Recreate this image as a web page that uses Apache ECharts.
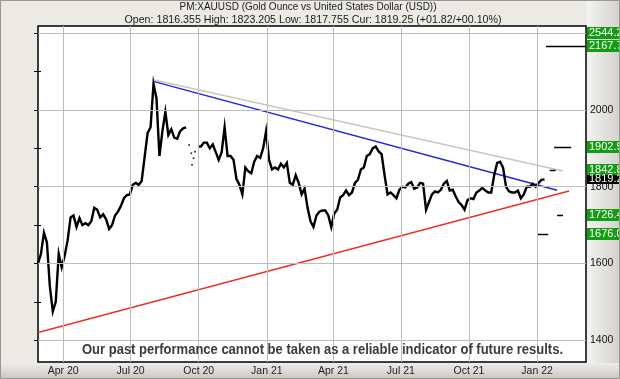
<!DOCTYPE html>
<html><head><meta charset="utf-8">
<script src="https://cdn.jsdelivr.net/npm/echarts@6/dist/echarts.min.js"></script>
<style>html,body{margin:0;padding:0;background:#eceae5;overflow:hidden}#c{width:620px;height:379px}</style>
</head><body><div id="c"></div>
<script>
// ---------- text ----------
const titleLine1 = 'PM:XAUUSD (Gold Ounce vs United States Dollar (USD))';
const titleLine2 = 'Open: 1816.355 High: 1823.205 Low: 1817.755 Cur: 1819.25 (+01.82/+00.10%)';
const disclaimer = 'Our past performance cannot be taken as a reliable indicator of future results.';

// ---------- axes ----------
const axisStart = '2020-02-27';
const axisEnd = '2022-03-08';
const quarterStarts = ['2020-04-01','2020-07-01','2020-10-01','2021-01-01','2021-04-01','2021-07-01','2021-10-01','2022-01-01'];
const quarterLabels = ['Apr 20','Jul 20','Oct 20','Jan 21','Apr 21','Jul 21','Oct 21','Jan 22'];
const yMin = 1343, yMax = 2219;
const yTickValues = [1400,1500,1600,1700,1800,1900,2000,2100,2200];
const yLabelValues = [1400,1600,1800,2000];
const gridLevels = [1400,1600,1800,2000,2200];

// ---------- price (one reading every 4 calendar days from startDate) ----------
const startDate = '2020-02-27';
const stepDays = 4;
const prices2020 = [1600,1625,1680,1655,1540,1475,1500,1625,1590,1620,
  1660,1720,1725,1695,1718,1700,1705,1700,1710,1745,
  1740,1720,1728,1715,1690,1700,1725,1735,1750,1770,
  1778,1780,1805,1810,1805,1815,1878,1940,1955,2068,
  2030,1880,1945,1995,1935,1950,1928,1925,1945,1952,
  1955,null,null,null,1905,1905,1915,1915,1900,1910,
  1890,1870,1890,1955,1880,1880,1870,1820,1805,1780,
  1850,1840,1835,1865,1880,1875,1900,1945];
const prices2021 = [1870,1845,1850,1845,1860,1850,1862,1810,1805,1830,
  1810,1780,1795,1745,1710,1695,1725,1735,1738,1738,
  1725,1695,1730,1740,1772,1778,1790,1778,1785,1810,
  1818,1845,1850,1880,1885,1900,1905,1892,1885,1830,
  1780,1785,1778,1770,1792,1800,1798,1808,1812,1795,
  1798,1810,1808,1740,1760,1780,1788,1785,1792,1808,
  1815,1790,1792,1775,1760,1752,1740,1765,1770,1768,
  1785,1790,1797,1790,1785,1785,1830,1862,1865,1850,
  1800,1788,1785,1785,1790,1770,1780,1800,1800,1808,
  1800];
const prices2022 = [1810,1818,1819.25];
// sparse prints in late September 2020
const sparseDates = ['2020-09-18','2020-09-21','2020-09-24','2020-09-22','2020-09-26'];
const sparseValues = [1909,1887,1874,1857,1891];

// ---------- trend lines ----------
const redLine = [['2020-02-27',1420],['2022-02-13',1789]];
const blueLine = [['2020-08-02',2074],['2022-01-28',1791]];
const greyLine = [['2020-08-02',2078],['2022-02-05',1841]];

// ---------- targets ----------
const targetLevels = [2544.2, 2167.7, 1902.9, 1842.8, 1726.4, 1676.0];
const targetStarts = [null, '2022-01-13','2022-01-24','2022-01-18','2022-01-28','2022-01-01'];
const targetEnds   = [null, '2022-03-08','2022-02-16','2022-01-26','2022-02-05','2022-01-16'];
const currentPrice = 1819.25;

// ---------- build (x = days since axisStart) ----------
const DAY = 86400000;
const ts = s => Date.parse(s + 'T00:00:00Z');
const dx = s => (ts(s) - ts(axisStart)) / DAY;
const xMin = 0, xMax = dx(axisEnd);
const allPrices = prices2020.concat(prices2021, prices2022);
const priceData = allPrices.map((v, i) => [dx(startDate) + i * stepDays, v]);
const sparseData = sparseDates.map((d, i) => [dx(d), sparseValues[i]]);
const toPts = arr => arr.map(p => [dx(p[0]), p[1]]);
const segData = [];
targetLevels.forEach((v, i) => { if (targetStarts[i]) segData.push([dx(targetStarts[i]), dx(targetEnds[i]), v]); });
const boxData = targetLevels.map(v => [xMax, v, 0]).concat([[xMax, currentPrice, 1]]);
const quarterX = quarterStarts.map(dx);

function measure(text, font) {
  const c = document.createElement('canvas').getContext('2d');
  c.font = font; return c.measureText(text).width;
}
const discFont = 'bold 14px "Liberation Sans", Arial, sans-serif';
const discScale = 481 / measure(disclaimer, discFont);
const t1Font = '11px "Liberation Sans", Arial, sans-serif';
const t1Scale = 257 / measure(titleLine1, t1Font);
const t2Scale = 377 / measure(titleLine2, t1Font);

const chart = echarts.init(document.getElementById('c'), null, {renderer: 'canvas'});
const option = {
  animation: false,
  backgroundColor: '#eceae5',
  grid: {left: 38, right: 34, top: 26, bottom: 17, show: true, backgroundColor: '#ffffff', borderColor: '#000', borderWidth: 1.5},
  xAxis: {
    type: 'value', min: xMin, max: xMax,
    axisLine: {show: false},
    axisTick: {show: false},
    splitLine: {show: false},
    axisLabel: {
      customValues: quarterX,
      formatter: v => { const k = quarterX.findIndex(q => Math.abs(q - v) < 0.5); return k >= 0 ? quarterLabels[k] : ''; },
      fontSize: 10.5, color: '#222', margin: 4, fontFamily: '"Liberation Sans", Arial, sans-serif'
    }
  },
  yAxis: [{
    type: 'value', position: 'right', min: yMin, max: yMax,
    axisLine: {show: false},
    splitLine: {show: false},
    axisTick: {show: true, inside: true, length: 4, customValues: yTickValues, lineStyle: {color: '#000'}},
    axisLabel: {customValues: yLabelValues, formatter: v => String(v), fontSize: 10.5, color: '#111', margin: 4, fontFamily: '"Liberation Sans", Arial, sans-serif'}
  }, {
    type: 'value', position: 'left', min: yMin, max: yMax,
    axisLine: {show: false}, splitLine: {show: false},
    axisTick: {show: true, inside: true, length: 3, customValues: yTickValues, lineStyle: {color: '#000'}},
    axisLabel: {show: false}
  }],
  series: [
    {
      type: 'line', data: [], z: 1, silent: true,
      markLine: {
        silent: true, symbol: 'none', label: {show: false}, animation: false,
        lineStyle: {color: '#bdbdbd', type: 'solid', width: 1},
        data: gridLevels.map(v => ({yAxis: v})).concat(quarterX.map(x => ({xAxis: x})))
      }
    },
    {type: 'line', data: toPts(greyLine), symbol: 'none', z: 2, lineStyle: {color: '#c9c7bd', width: 1.5}},
    {type: 'line', data: toPts(blueLine), symbol: 'none', z: 2, lineStyle: {color: '#2424d8', width: 1.5}},
    {type: 'line', data: toPts(redLine), symbol: 'none', z: 2, lineStyle: {color: '#e8322a', width: 1.5}},
    {type: 'line', data: priceData, symbol: 'none', z: 3, lineStyle: {color: '#000', width: 2.4, join: 'miter'}, connectNulls: false},
    {type: 'scatter', data: sparseData, symbolSize: 2, z: 3, itemStyle: {color: '#000'}},
    {
      type: 'custom', z: 4, data: segData, encode: {x: [0, 1], y: 2},
      renderItem: (params, api) => {
        const a = api.coord([api.value(0), api.value(2)]);
        const b = api.coord([api.value(1), api.value(2)]);
        return {type: 'line', shape: {x1: a[0], y1: Math.round(a[1]) + 0.5, x2: b[0], y2: Math.round(b[1]) + 0.5}, style: {stroke: '#000', lineWidth: 1.5}};
      }
    },
    {
      type: 'custom', z: 5, clip: false, data: boxData, encode: {x: 0, y: 1},
      renderItem: (params, api) => {
        const v = api.value(1), kind = api.value(2);
        const p = api.coord([api.value(0), v]);
        const y = Math.max(p[1], 33);
        const h = kind ? 9 : 12;
        return {type: 'group', children: [
          {type: 'rect', shape: {x: p[0] + 1, y: Math.round(y - h / 2), width: 40, height: h}, style: {fill: kind ? '#000' : '#159c15'}},
          {type: 'text', x: p[0] + 3, y: y, style: {text: kind ? v.toFixed(2) : v.toFixed(1), fill: '#fff', font: '11px "Liberation Sans", Arial, sans-serif', verticalAlign: 'middle'}}
        ]};
      }
    }
  ],
  graphic: [
    {type: 'rect', z: -10, shape: {x: 587, y: 0, width: 33, height: 379}, style: {fill: new echarts.graphic.LinearGradient(0, 0, 1, 0, [{offset: 0, color: '#f3f3f1'}, {offset: 1, color: '#d2d1cc'}])}},
    {type: 'rect', z: -10, shape: {x: 0, y: 363, width: 620, height: 16}, style: {fill: new echarts.graphic.LinearGradient(0, 0, 0, 1, [{offset: 0, color: '#eeede9'}, {offset: 1, color: '#c9c7c1'}])}},
    {type: 'rect', z: 100, shape: {x: 0.5, y: 0.5, width: 619, height: 378}, style: {fill: 'none', stroke: '#9a978f', lineWidth: 1}},
    {type: 'text', z: 100, x: 308, y: 7, scaleX: t1Scale, style: {text: titleLine1, font: t1Font, fill: '#1a1a1a', align: 'center', verticalAlign: 'middle'}},
    {type: 'text', z: 100, x: 313, y: 19.5, scaleX: t2Scale, style: {text: titleLine2, font: t1Font, fill: '#1a1a1a', align: 'center', verticalAlign: 'middle'}},
    {type: 'text', z: 100, x: 322.5, y: 350, scaleX: discScale, style: {text: disclaimer, font: discFont, fill: '#3b3b3b', align: 'center', verticalAlign: 'middle'}}
  ]
};
chart.setOption(option);
</script></body></html>
